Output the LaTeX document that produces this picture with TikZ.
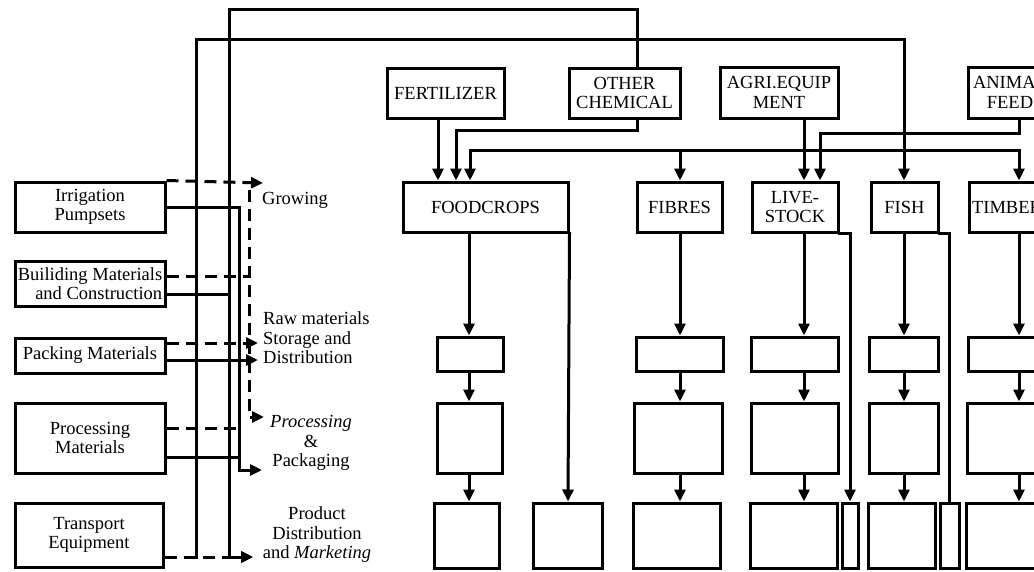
\documentclass[tikz,border=0pt]{standalone}
\usepackage{fontspec}
\setmainfont{Liberation Serif}
\usetikzlibrary{arrows.meta}
\begin{document}
\begin{tikzpicture}[x=1pt,y=-1pt,
  every node/.style={font=\fontsize{18.5}{19.5}\selectfont},
  box/.style={draw, line width=3pt, inner sep=0pt, align=center},
  ln/.style={line width=3pt, line cap=rect},
  dsh/.style={line width=3pt, dash pattern=on 12pt off 7pt},
  arr/.style={-{Triangle[length=12pt,width=11pt]}},
  lbl/.style={align=center, inner sep=0pt}
]
\clip (0,0) rectangle (1034,571);
\fill[white] (0,0) rectangle (1034,571);

% ---------- left boxes ----------
\node[box, minimum width=150pt, minimum height=50pt] (irr) at (90,207) {Irrigation\\Pumpsets};
\node[box, minimum width=150pt, minimum height=45pt, align=right] (bld) at (90,283.5) {Builiding Materials\\and Construction};
\node[box, minimum width=150pt, minimum height=35pt] (pack) at (90,355.5) {Packing Materials};
\node[box, minimum width=150pt, minimum height=70pt] (proc) at (90,438) {Processing\\Materials};
\node[box, minimum width=148pt, minimum height=64pt] (trans) at (89,535) {Transport\\Equipment};

% ---------- stage labels ----------
\node[lbl, anchor=west] (grow) at (262,200) {Growing};
\node[lbl, anchor=west, align=left] (raw) at (263,338) {Raw materials\\Storage and\\Distribution};
\node[lbl] (ppk) at (311,443) {\textit{Processing}\\\&\\Packaging};
\node[lbl] (pdm) at (317,535) {Product\\Distribution\\and \textit{Marketing}};

% ---------- top inputs ----------
\node[box, minimum width=117pt, minimum height=50pt] (fert) at (445.5,93) {FERTILIZER};
\node[box, minimum width=111pt, minimum height=50pt] (oth) at (624.5,93) {OTHER\\CHEMICAL};
\node[box, minimum width=118pt, minimum height=51pt] (agri) at (779,92.5) {AGRI.EQUIP\\MENT};
\node[box, minimum width=84pt, minimum height=51pt] (feed) at (1010,92.5) {ANIMAL\\FEED};

% ---------- sectors ----------
\node[box, minimum width=165pt, minimum height=50pt] (food) at (485.5,207) {FOODCROPS};
\node[box, minimum width=85pt, minimum height=50pt] (fib) at (679.5,207) {FIBRES};
\node[box, minimum width=86pt, minimum height=50pt] (live) at (795,207) {LIVE-\\STOCK};
\node[box, minimum width=67pt, minimum height=50pt] (fish) at (904.5,207) {FISH};
\node[box, minimum width=76pt, minimum height=50pt] (timb) at (1007,207) {TIMBER};

% ---------- empty stage boxes ----------
\node[box, minimum width=66pt, minimum height=34pt] (f1) at (470,354) {};
\node[box, minimum width=65pt, minimum height=70pt] (f2) at (469.5,438) {};
\node[box, minimum width=65pt, minimum height=65pt] (f3) at (466.5,535.5) {};
\node[box, minimum width=69pt, minimum height=65pt] (e3) at (568,535.5) {};

\node[box, minimum width=87pt, minimum height=34pt] (b1) at (679.5,354) {};
\node[box, minimum width=88pt, minimum height=70pt] (b2) at (678,438) {};
\node[box, minimum width=87pt, minimum height=65pt] (b3) at (676.5,535.5) {};

\node[box, minimum width=87pt, minimum height=34pt] (l1) at (794.5,354) {};
\node[box, minimum width=87pt, minimum height=70pt] (l2) at (794.5,438) {};
\node[box, minimum width=87pt, minimum height=65pt] (l3) at (793.5,535.5) {};
\node[box, minimum width=16pt, minimum height=65pt] (t1) at (850,535.5) {};

\node[box, minimum width=69pt, minimum height=34pt] (s1) at (903.5,354) {};
\node[box, minimum width=69pt, minimum height=70pt] (s2) at (903.5,438) {};
\node[box, minimum width=67pt, minimum height=65pt] (s3) at (901.5,535.5) {};
\node[box, minimum width=19pt, minimum height=65pt] (t2) at (949.5,535.5) {};

\node[box, minimum width=100pt, minimum height=34pt] (m1) at (1018,354) {};
\node[box, minimum width=100pt, minimum height=70pt] (m2) at (1017,438) {};
\node[box, minimum width=100pt, minimum height=65pt] (m3) at (1016,535.5) {};

% ---------- coordinates ----------
\coordinate (vA) at (196,0);
\coordinate (vB) at (229,0);
\coordinate (vC) at (239,0);
\coordinate (vD) at (249,0);
\coordinate (hTop) at (0,9);
\coordinate (hFish) at (0,39);
\coordinate (hDtop) at (0,190);
\coordinate (hBd) at (0,276);
\coordinate (hBs) at (0,294);
\coordinate (hPd) at (0,343);
\coordinate (hPs) at (0,360);
\coordinate (hPr) at (0,417);
\coordinate (hQd) at (0,428);
\coordinate (hQs) at (0,457);
\coordinate (hPk) at (0,470);
\coordinate (hTr) at (0,557);
\coordinate (gTip) at (263,183);
\coordinate (rmTip1) at (258,343);
\coordinate (rmTip2) at (258,360);
\coordinate (prTip) at (264,417);
\coordinate (pkTip) at (262,470);
\coordinate (pdTip) at (253,557);

\coordinate (vF1) at (438,0);
\coordinate (vF2) at (456,0);
\coordinate (vF3) at (470,0);
\coordinate (vFc) at (469,0);
\coordinate (vOth) at (637,0);
\coordinate (vFb) at (680,0);
\coordinate (vL1) at (804,0);
\coordinate (vL2) at (820,0);
\coordinate (vFs) at (904,0);
\coordinate (vT) at (1019,0);
\coordinate (hOc) at (0,130);
\coordinate (hFd) at (0,133);
\coordinate (hRail) at (0,150);

% ---------- left connectors ----------
\draw[dsh,arr] (irr.north east) -- (gTip);
\draw[ln,arr] (irr.east) -| (vC |- hPk) -- (pkTip);
\draw[dsh] (bld.east |- hBd) -- (vD |- hBd);
\draw[ln] (bld.east |- hBs) -- (vB |- hBs);
\draw[dsh,arr] (vD |- hDtop) -- (vD |- hPr) -- (prTip);
\draw[dsh,arr] (pack.east |- hPd) -- (rmTip1);
\draw[ln,arr] (pack.east |- hPs) -- (rmTip2);
\draw[dsh] (proc.east |- hQd) -- (vC |- hQd);
\draw[ln] (proc.east |- hQs) -- (vC |- hQs);
\draw[dsh,arr] (trans.east |- hTr) -- (pdTip);
\draw[ln,arr] (vB |- hTr) -- (pdTip);
\draw[ln,arr] (vA |- hTr) -- (vA |- hFish) -| (fish.north -| vFs);
\draw[ln] (vB |- hTr) -- (vB |- hTop) -| (oth.north -| vOth);

% ---------- top connectors ----------
\draw[ln,arr] (fert.south -| vF1) -- (food.north -| vF1);
\draw[ln,arr] (oth.south -| vOth) |- (vF2 |- hOc) -- (food.north -| vF2);
\draw[ln,arr] (vF3 |- hRail) -- (food.north -| vF3);
\draw[ln,arr] (vF3 |- hRail) -| (timb.north -| vT);
\draw[ln,arr] (vFb |- hRail) -- (fib.north -| vFb);
\draw[ln,arr] (agri.south -| vL1) -- (live.north -| vL1);
\draw[ln,arr] (feed.south -| vT) |- (vL2 |- hFd) -- (live.north -| vL2);

% ---------- columns ----------
\draw[ln,arr] (food.south -| vFc) -- (f1.north -| vFc);
\draw[ln,arr] (f1.south -| vFc) -- (f2.north -| vFc);
\draw[ln,arr] (f2.south -| vFc) -- (f3.north -| vFc);
\draw[ln,arr] (food.south east) -- (e3.north);

\draw[ln,arr] (fib.south -| vFb) -- (b1.north -| vFb);
\draw[ln,arr] (b1.south -| vFb) -- (b2.north -| vFb);
\draw[ln,arr] (b2.south -| vFb) -- (b3.north -| vFb);

\draw[ln,arr] (live.south -| vL1) -- (l1.north -| vL1);
\draw[ln,arr] (l1.south -| vL1) -- (l2.north -| vL1);
\draw[ln,arr] (l2.south -| vL1) -- (l3.north -| vL1);
\draw[ln,arr] (live.south east) -| (t1.north);

\draw[ln,arr] (fish.south -| vFs) -- (s1.north -| vFs);
\draw[ln,arr] (s1.south -| vFs) -- (s2.north -| vFs);
\draw[ln,arr] (s2.south -| vFs) -- (s3.north -| vFs);
\draw[ln] (fish.south east) -| (t2.north);

\draw[ln,arr] (timb.south -| vT) -- (m1.north -| vT);
\draw[ln,arr] (m1.south -| vT) -- (m2.north -| vT);
\draw[ln,arr] (m2.south -| vT) -- (m3.north -| vT);
\end{tikzpicture}
\end{document}
